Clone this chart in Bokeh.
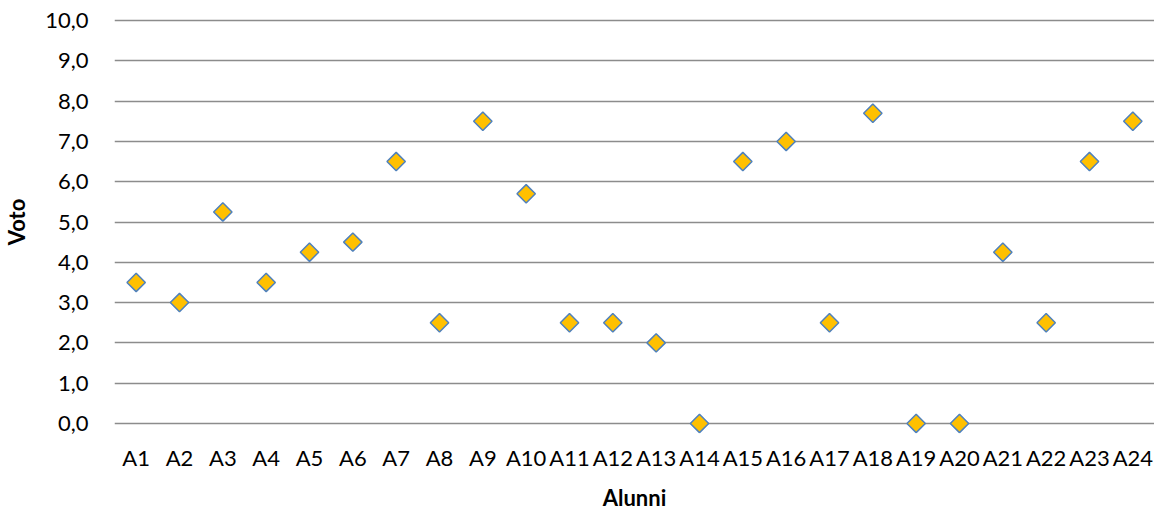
import math
from bokeh.plotting import figure
from bokeh.models import FactorRange, Range1d, FixedTicker, ColumnDataSource
from bokeh.embed import file_html
from bokeh.resources import INLINE

students = ["A%d" % i for i in range(1, 25)]
voti = [3.5, 3.0, 5.25, 3.5, 4.25, 4.5, 6.5, 2.5, 7.5, 5.7, 2.5, 2.5,
        2.0, 0.0, 6.5, 7.0, 2.5, 7.7, 0.0, 0.0, 4.25, 2.5, 6.5, 7.5]
y_ticks = [0, 1, 2, 3, 4, 5, 6, 7, 8, 9, 10]
y_tick_labels = ["0,0", "1,0", "2,0", "3,0", "4,0", "5,0", "6,0", "7,0", "8,0", "9,0", "10,0"]

FONT = "Lato"

p = figure(frame_width=1040, frame_height=423, output_backend="svg", toolbar_location=None,
           x_range=FactorRange(*students, range_padding=0),
           y_range=Range1d(-0.25, 10.25),
           min_border_left=100, min_border_right=0, min_border_top=10, min_border_bottom=60)
p.outline_line_color = None
p.background_fill_color = "white"

src = ColumnDataSource(dict(x=students, y=voti))
p.scatter("x", "y", source=src, marker="square", size=13, angle=math.pi / 4,
          fill_color="#FFC000", line_color="#4F81BD", line_width=1.5)

# y axis
p.yaxis.ticker = FixedTicker(ticks=y_ticks)
p.yaxis.major_label_overrides = {t: l for t, l in zip(y_ticks, y_tick_labels)}
p.yaxis.axis_line_color = None
p.yaxis.major_tick_line_color = None
p.yaxis.minor_tick_line_color = None
p.yaxis.major_label_text_font = FONT
p.yaxis.major_label_text_font_size = "22px"
p.yaxis.major_label_text_color = "#000000"
p.yaxis.major_label_standoff = 20
p.yaxis.axis_label = "Voto"
p.yaxis.axis_label_text_font = FONT
p.yaxis.axis_label_text_font_style = "bold"
p.yaxis.axis_label_text_font_size = "22px"
p.yaxis.axis_label_text_color = "#000000"
p.yaxis.axis_label_standoff = 12

# x axis
p.xaxis.axis_line_color = None
p.xaxis.major_tick_line_color = None
p.xaxis.minor_tick_line_color = None
p.xaxis.major_label_text_font = FONT
p.xaxis.major_label_text_font_size = "22px"
p.xaxis.major_label_text_color = "#000000"
p.xaxis.major_label_standoff = 4
p.xaxis.axis_label = "Alunni"
p.xaxis.axis_label_text_font = FONT
p.xaxis.axis_label_text_font_style = "bold"
p.xaxis.axis_label_text_font_size = "22px"
p.xaxis.axis_label_text_color = "#000000"
p.xaxis.axis_label_standoff = 10

p.xgrid.grid_line_color = None
p.ygrid.grid_line_color = "#8C8C8C"
p.ygrid.grid_line_width = 1.5

open("out.html", "w").write(file_html(p, INLINE))
